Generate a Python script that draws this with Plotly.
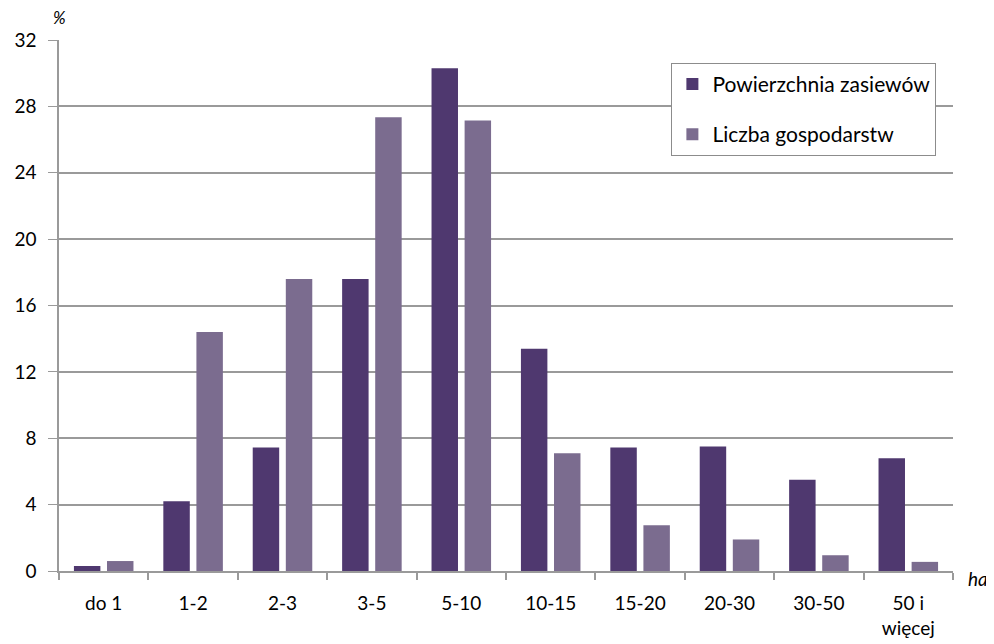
import plotly.graph_objects as go

categories = ["do 1", "1-2", "2-3", "3-5", "5-10", "10-15", "15-20", "20-30", "30-50", "50 i<br>więcej"]
powierzchnia = [0.3, 4.2, 7.45, 17.6, 30.3, 13.4, 7.45, 7.5, 5.5, 6.8]
gospodarstwa = [0.6, 14.4, 17.6, 27.35, 27.15, 7.1, 2.75, 1.9, 0.95, 0.55]
y_ticks = [0, 4, 8, 12, 16, 20, 24, 28, 32]

FONT = "Lato, 'Open Sans', sans-serif"

fig = go.Figure()
fig.add_trace(go.Bar(x=categories, y=powierzchnia, name="Powierzchnia zasiewów",
                     marker=dict(color="#4f386f", line=dict(width=0)), legendgroup="a"))
fig.add_trace(go.Bar(x=categories, y=gospodarstwa, name="Liczba gospodarstw",
                     marker=dict(color="#7b6c8f", line=dict(width=0)), legendgroup="b"))

fig.update_layout(
    width=986, height=636,
    margin=dict(l=51, r=41, t=32, b=73, autoexpand=False),
    plot_bgcolor="white", paper_bgcolor="white",
    barmode="group", bargap=0.26, bargroupgap=0.2,
    font=dict(family=FONT, size=19, color="black"),
    legend=dict(x=0.685, y=0.957, xanchor="left", yanchor="top",
                bordercolor="#8c8c8c", borderwidth=1, bgcolor="white",
                font=dict(size=21), tracegroupgap=20, traceorder="grouped",
                itemwidth=30),
    xaxis=dict(showline=True, linecolor="#9a9a9a", linewidth=2,
               ticks="outside", tickson="boundaries", ticklen=7, tickcolor="#9a9a9a",
               tickwidth=1.5, showgrid=False, tickfont=dict(size=19),
               ticklabelstandoff=14),
    yaxis=dict(range=[0, 32], tickvals=y_ticks, showline=True, linecolor="#9a9a9a",
               linewidth=1.5, ticks="outside", ticklen=9, tickcolor="#9a9a9a",
               gridcolor="#9a9a9a", gridwidth=1.5, zeroline=False,
               tickfont=dict(size=19), ticklabelstandoff=8),
    annotations=[
        dict(text="<i>%</i>", x=0.0, y=1.0, xref="paper", yref="paper",
             xanchor="center", yanchor="bottom", yshift=10, showarrow=False,
             font=dict(size=17)),
        dict(text="<i>ha</i>", x=1.0, y=0.0, xref="paper", yref="paper",
             xanchor="left", yanchor="top", xshift=13, yshift=6, showarrow=False,
             font=dict(size=19)),
    ],
)

fig.write_html("out.html")
